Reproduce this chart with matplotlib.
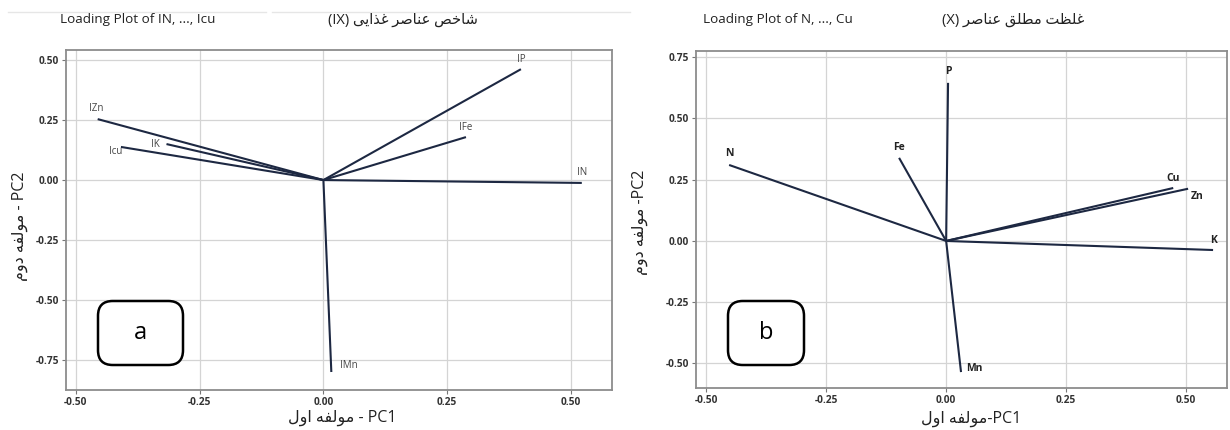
import matplotlib
matplotlib.use("Agg")
import matplotlib.pyplot as plt
from matplotlib.patches import FancyBboxPatch
from matplotlib.lines import Line2D

plt.rcParams['font.family'] = ['Open Sans', 'DejaVu Sans']

# loadings
vars_a = ["IN", "IP", "IK", "IFe", "IZn", "IMn", "Icu"]
pc1_a = [0.522, 0.399, -0.317, 0.288, -0.456, 0.016, -0.409]
pc2_a = [-0.012, 0.462, 0.150, 0.179, 0.254, -0.800, 0.138]

vars_b = ["N", "P", "K", "Fe", "Zn", "Mn", "Cu"]
pc1_b = [-0.452, 0.004, 0.556, -0.098, 0.504, 0.031, 0.473]
pc2_b = [0.310, 0.645, -0.037, 0.339, 0.213, -0.535, 0.216]

ticks = [-0.50, -0.25, 0.00, 0.25, 0.50]
yticks_a = [-0.75, -0.50, -0.25, 0.00, 0.25, 0.50]
yticks_b = [-0.50, -0.25, 0.00, 0.25, 0.50, 0.75]

# label offsets in pixels (dx, dy, ha)
off_a = {"IN": (0, 10, "center"), "IP": (0, 10, "center"), "IK": (-7, 0, "right"),
         "IFe": (0, 10, "center"), "IZn": (-1, 11, "center"), "IMn": (9, 7, "left"),
         "Icu": (1, -5, "right")}
off_b = {"N": (0, 11, "center"), "P": (0, 11, "center"), "K": (0, 10, "center"),
         "Fe": (0, 10, "center"), "Zn": (9, -8, "center"), "Mn": (5, 4, "left"),
         "Cu": (0, 10, "center")}

# minimal Persian shaping (matplotlib does no joining / bidi)
FORMS = {
    'ا': ('\uFE8D', '\uFE8E', None, None), 'د': ('\uFEA9', '\uFEAA', None, None),
    'ذ': ('\uFEAB', '\uFEAC', None, None), 'ر': ('\uFEAD', '\uFEAE', None, None),
    'و': ('\uFEED', '\uFEEE', None, None),
    'ت': ('\uFE95', '\uFE96', '\uFE97', '\uFE98'), 'خ': ('\uFEA5', '\uFEA6', '\uFEA7', '\uFEA8'),
    'ش': ('\uFEB5', '\uFEB6', '\uFEB7', '\uFEB8'), 'ص': ('\uFEB9', '\uFEBA', '\uFEBB', '\uFEBC'),
    'ط': ('\uFEC1', '\uFEC2', '\uFEC3', '\uFEC4'), 'ظ': ('\uFEC5', '\uFEC6', '\uFEC7', '\uFEC8'),
    'ع': ('\uFEC9', '\uFECA', '\uFECB', '\uFECC'), 'غ': ('\uFECD', '\uFECE', '\uFECF', '\uFED0'),
    'ف': ('\uFED1', '\uFED2', '\uFED3', '\uFED4'), 'ق': ('\uFED5', '\uFED6', '\uFED7', '\uFED8'),
    'ل': ('\uFEDD', '\uFEDE', '\uFEDF', '\uFEE0'), 'م': ('\uFEE1', '\uFEE2', '\uFEE3', '\uFEE4'),
    'ن': ('\uFEE5', '\uFEE6', '\uFEE7', '\uFEE8'), 'ه': ('\uFEE9', '\uFEEA', '\uFEEB', '\uFEEC'),
    'ی': ('\uFBFC', '\uFBFD', '\uFBFE', '\uFBFF'),
}


def fa(text):
    out = []
    for i, ch in enumerate(text):
        if ch not in FORMS:
            out.append(ch)
            continue
        prev = text[i - 1] if i > 0 else ''
        nxt = text[i + 1] if i + 1 < len(text) else ''
        jp = prev in FORMS and FORMS[prev][2] is not None
        jn = FORMS[ch][2] is not None and nxt in FORMS
        iso, fin, ini, med = FORMS[ch]
        if jp and jn:
            out.append(med)
        elif jp:
            out.append(fin)
        elif jn:
            out.append(ini)
        else:
            out.append(iso)
    return ''.join(out)[::-1]


W, H = 1230, 430
fig = plt.figure(figsize=(W / 100, H / 100), dpi=100)

ax_a = fig.add_axes([66 / W, 1 - 390 / H, 546 / W, 340 / H])
ax_b = fig.add_axes([696 / W, 1 - 388 / H, 531 / W, 337 / H])

line_col = "#1d2842"


def draw(ax, names, xs, ys, offs, ylim, yt, bold):
    ax.set_xlim(-0.52, 0.583)
    ax.set_ylim(*ylim)
    ax.set_xticks(ticks)
    ax.set_yticks(yt)
    ax.set_xticklabels([f"{t:.2f}" for t in ticks])
    ax.set_yticklabels([f"{t:.2f}" for t in yt])
    ax.grid(True, color="#d4d4d4", lw=0.9)
    ax.set_axisbelow(True)
    for s in ax.spines.values():
        s.set_color("#8c8c8c")
        s.set_linewidth(1.3)
    ax.tick_params(length=3, width=0.8, color="#777777", labelsize=7.3,
                   labelcolor="#333333", pad=2)
    for lab in ax.get_xticklabels() + ax.get_yticklabels():
        lab.set_fontweight("bold")
    for n, x, y in zip(names, xs, ys):
        ax.plot([0, x], [0, y], color=line_col, lw=1.5, solid_capstyle="butt")
        dx, dy, ha = offs[n]
        ax.annotate(n, (x, y), xytext=(dx * 0.72, dy * 0.72), textcoords="offset points",
                    ha=ha, va="center", fontsize=7.5 if bold else 7,
                    fontweight="bold" if bold else "normal",
                    color="#222222" if bold else "#444444")


draw(ax_a, vars_a, pc1_a, pc2_a, off_a, (-0.875, 0.542), yticks_a, False)
draw(ax_b, vars_b, pc1_b, pc2_b, off_b, (-0.60, 0.775), yticks_b, True)
ax_b.set_xlim(-0.521, 0.585)

# titles
fig.text(60 / W, 1 - 20 / H, "Loading Plot of IN, ..., Icu", fontsize=9.7,
         ha="left", va="center", color="#222222")
fig.text(478 / W, 1 - 20 / H, "(IX) " + fa("شاخص عناصر غذایی"), fontsize=10.5,
         ha="right", va="center", color="#222222")
fig.text(703 / W, 1 - 20 / H, "Loading Plot of N, ..., Cu", fontsize=9.7,
         ha="left", va="center", color="#222222")
fig.text(1084 / W, 1 - 20 / H, "(X) " + fa("غلظت مطلق عناصر"), fontsize=10.5,
         ha="right", va="center", color="#222222")

# axis labels
fig.text(342 / W, 1 - 418 / H, fa("مولفه اول") + " - PC1", fontsize=11.5,
         ha="center", va="center", color="#222222")
fig.text(971 / W, 1 - 419 / H, fa("مولفه اول") + "-PC1", fontsize=11.5,
         ha="center", va="center", color="#222222")
fig.text(20 / W, 1 - 226 / H, fa("مولفه دوم") + " - PC2", fontsize=11.5,
         rotation=90, ha="center", va="center", color="#222222")
fig.text(640 / W, 1 - 222 / H, fa("مولفه دوم") + " -PC2", fontsize=11.5,
         rotation=90, ha="center", va="center", color="#222222")

# panel tags
for x0, x1, tag in [(98, 183, "a"), (728, 804, "b")]:
    box = FancyBboxPatch((x0 / W, 1 - 365 / H), (x1 - x0) / W, 64 / H,
                         boxstyle="round,pad=0,rounding_size=0.012",
                         transform=fig.transFigure, fc="white", ec="black", lw=1.8,
                         mutation_aspect=W / H)
    fig.patches.append(box)
    fig.text((x0 + x1) / 2 / W, 1 - 333 / H, tag, fontsize=17, ha="center",
             va="center", color="black")

# faint separator lines from the screenshot
for x0, x1 in [(8, 266), (272, 630)]:
    fig.add_artist(Line2D([x0 / W, x1 / W], [1 - 12 / H, 1 - 12 / H],
                          transform=fig.transFigure, color="#e6e6e6", lw=1))

fig.savefig("out.png", dpi=100)
